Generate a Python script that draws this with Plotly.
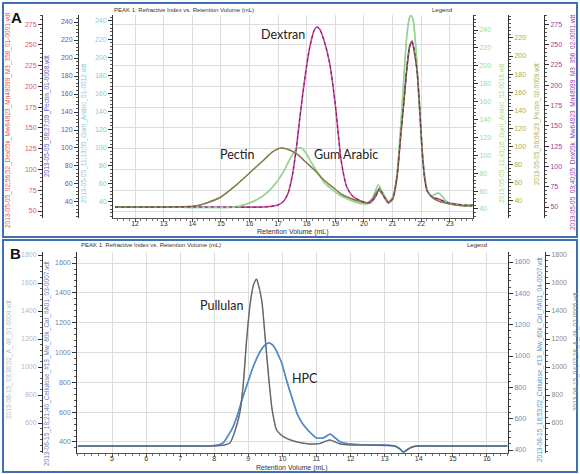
import plotly.graph_objects as go

# ---------------- Panel A : retention volume (mL) and RI response ----------------
dex_x = [11.3, 12.5, 14, 15.5, 16.5, 17.0, 17.2, 17.35, 17.5, 17.65, 17.8, 17.95, 18.1, 18.25, 18.35,
         18.45, 18.6, 18.8, 19.0, 19.2, 19.4, 19.6, 19.9, 20.2, 20.4, 20.55, 20.7, 20.85, 21.0, 21.15,
         21.3, 21.4, 21.5, 21.6, 21.68, 21.78, 21.86, 21.95, 22.03, 22.12, 22.21, 22.4, 22.6, 23.0, 23.5, 23.8]
dex_run1 = [54.8, 54.8, 54.8, 54.8, 54.8, 57.2, 62.0, 71.7, 93.3, 129.4, 174.0, 213.7, 246.2, 266.6, 271.4,
            269.0, 255.8, 228.1, 177.6, 111.4, 78.9, 68.1, 62.0, 59.6, 66.8, 77.7, 66.8, 59.6, 64.4, 89.7,
            147.5, 183.6, 222.1, 248.6, 254.6, 237.7, 217.3, 171.5, 123.4, 89.7, 74.1, 66.8, 64.4, 59.6, 57.2, 57.2]
dex_run2 = [50.0, 50.0, 50.0, 50.0, 50.0, 52.5, 57.4, 67.2, 89.4, 126.3, 171.8, 212.4, 245.6, 266.5, 271.4,
            268.9, 255.4, 227.1, 175.5, 107.8, 74.6, 63.5, 57.4, 54.9, 62.3, 73.4, 62.3, 54.9, 59.8, 85.7,
            144.7, 181.6, 221.0, 248.0, 254.2, 237.0, 216.1, 169.3, 120.1, 85.7, 69.7, 62.3, 59.8, 54.9, 52.5, 52.5]

pec_x = [11.3, 13, 14.1, 14.5, 15.0, 15.5, 16.0, 16.5, 16.8, 17.1, 17.4, 17.7, 18.0, 18.3, 18.6, 18.9,
         19.2, 19.5, 19.8, 20.1, 20.3, 20.5, 20.7, 20.85, 21.0, 21.15, 21.3, 21.4, 21.5, 21.6, 21.68,
         21.78, 21.86, 21.95, 22.03, 22.12, 22.21, 22.4, 22.6, 23.0, 23.5, 23.8]
pec_run1 = [34.4, 34.4, 35.6, 38.9, 45.6, 57.8, 72.2, 86.7, 95.6, 100.0, 97.8, 92.2, 83.3, 74.4, 64.4, 56.7,
            48.9, 44.4, 41.1, 38.9, 43.3, 53.3, 46.7, 40.0, 43.3, 66.7, 120.0, 153.3, 188.9, 213.3, 217.8,
            203.3, 184.4, 142.2, 97.8, 66.7, 52.2, 44.4, 41.1, 37.8, 35.6, 35.6]
pec_run2 = [33.4, 33.4, 34.5, 37.8, 44.4, 56.6, 70.9, 85.3, 94.1, 98.5, 96.3, 90.8, 81.9, 73.1, 63.2, 55.5,
            47.7, 43.3, 40.0, 37.8, 42.2, 52.1, 45.5, 38.9, 42.2, 65.4, 118.4, 151.5, 186.8, 211.1, 215.5,
            201.2, 182.4, 140.4, 96.3, 65.4, 51.0, 43.3, 40.0, 36.7, 34.5, 34.5]

gum_x = [11.3, 13, 15.5, 16.0, 16.3, 16.6, 16.9, 17.2, 17.45, 17.65, 17.8, 17.95, 18.15, 18.35, 18.6,
         18.9, 19.2, 19.5, 19.8, 20.1, 20.3, 20.5, 20.7, 20.85, 21.0, 21.15, 21.3, 21.4, 21.5, 21.6,
         21.65, 21.72, 21.82, 21.92, 22.03, 22.12, 22.21, 22.35, 22.5, 22.6, 22.75, 22.9, 23.2, 23.8]
gum_run1 = [34.5, 34.5, 34.5, 38.9, 43.3, 49.9, 59.9, 74.3, 89.7, 98.6, 99.7, 95.2, 84.2, 74.3, 62.1,
            53.3, 46.6, 42.2, 38.9, 37.8, 44.4, 58.8, 47.7, 40.0, 45.5, 69.8, 130.6, 180.3, 224.5, 244.5,
            246.0, 241.1, 208.0, 152.7, 99.7, 68.7, 53.3, 46.6, 48.8, 49.9, 45.5, 40.0, 36.7, 36.7]
gum_run2 = [42.2, 42.2, 42.2, 46.7, 51.2, 57.9, 67.9, 82.4, 98.1, 107.0, 108.1, 103.7, 92.5, 82.4, 70.2,
            61.2, 54.5, 50.1, 46.7, 45.6, 52.3, 66.8, 55.6, 47.8, 53.4, 78.0, 139.4, 189.7, 234.4, 255.0,
            256.0, 251.1, 217.6, 161.8, 108.1, 76.9, 61.2, 54.5, 56.8, 57.9, 53.4, 47.8, 44.5, 44.5]

# ---------------- Panel B ----------------
pul_x = [4.0, 5, 6, 7, 8.0, 8.3, 8.46, 8.6, 8.75, 8.85, 8.95, 9.05, 9.15, 9.24, 9.32, 9.4, 9.5, 9.6,
         9.7, 9.83, 10.0, 10.2, 10.5, 10.81, 11.1, 11.25, 11.4, 11.55, 11.7, 12.0, 12.5, 13.0, 13.3,
         13.45, 13.55, 13.65, 13.8, 13.95, 14.5, 15.0, 16.0, 16.6]
pul_y = [435.7, 435.7, 435.7, 435.7, 435.7, 442.9, 457.1, 535.7, 671.4, 871.4, 1192.9, 1442.9, 1585.7,
         1628.6, 1564.3, 1464.3, 1192.9, 921.4, 692.9, 550.0, 507.1, 482.1, 460.7, 450.0, 453.6, 467.9,
         478.6, 464.3, 450.0, 442.9, 442.9, 439.3, 435.7, 414.3, 392.9, 407.1, 428.6, 435.7, 435.7,
         435.7, 435.7, 435.7]

hpc_x = [4.0, 5, 6, 7, 7.8, 8.1, 8.26, 8.4, 8.55, 8.7, 8.84, 9.0, 9.14, 9.34, 9.46, 9.58, 9.68, 9.78,
         9.88, 9.98, 10.12, 10.32, 10.45, 10.6, 10.8, 11.0, 11.2, 11.3, 11.4, 11.55, 11.7, 12.0, 12.5,
         13.0, 13.3, 13.45, 13.55, 13.65, 13.8, 13.95, 14.5, 15.0, 16.0, 16.6]
hpc_run1 = [373.2, 373.2, 373.2, 373.2, 373.2, 379.9, 393.3, 440.2, 500.6, 594.4, 701.7, 808.9, 902.8,
            1003.4, 1043.6, 1063.7, 1057.0, 1030.2, 983.2, 929.6, 815.6, 668.2, 581.0, 520.7, 467.0,
            426.8, 426.8, 440.2, 453.6, 426.8, 400.0, 386.6, 379.9, 379.9, 373.2, 353.1, 333.0, 346.4,
            366.5, 373.2, 373.2, 373.2, 373.2, 373.2]
hpc_run2 = [425.5, 425.5, 425.5, 425.5, 425.5, 431.9, 444.7, 489.4, 546.8, 636.2, 738.3, 840.4, 929.8,
            1025.5, 1063.8, 1083.0, 1076.6, 1051.1, 1006.4, 955.3, 846.8, 706.4, 623.4, 566.0, 514.9,
            476.6, 476.6, 489.4, 502.1, 476.6, 451.1, 438.3, 431.9, 431.9, 425.5, 406.4, 387.2, 400.0,
            419.1, 425.5, 425.5, 425.5, 425.5, 425.5]

a_ticks = list(range(12, 24))
b_ticks = list(range(5, 17))

W, H = 580, 474
FONT = 'Liberation Sans'


def px(x):
    return x / W


def py(y):
    return 1 - y / H


fig = go.Figure()


def add(x, y, xa, ya, color, width=1.4, dash='solid'):
    fig.add_trace(go.Scatter(x=x, y=y, xaxis=xa, yaxis=ya, mode='lines', showlegend=False,
                             line=dict(color=color, width=width, dash=dash, shape='spline', smoothing=0.6)))


add(gum_x, gum_run1, 'x', 'y3', '#9ad2d6', 1.6)
add(gum_x, gum_run2, 'x', 'y4', '#98d884', 1.4)
add(pec_x, pec_run2, 'x', 'y5', '#857a48', 1.5)
add(pec_x, pec_run1, 'x', 'y2', '#3c3c78', 1.0, 'dot')
add(dex_x, dex_run1, 'x', 'y', '#d2449a', 1.6)
add(dex_x, dex_run2, 'x', 'y6', '#5c2070', 1.0, 'dot')

add(pul_x, pul_y, 'x2', 'y7', '#9aa4b4', 1.6)
add(pul_x, pul_y, 'x2', 'y10', '#5a5a5a', 1.0)
add(hpc_x, hpc_run1, 'x2', 'y8', '#6a7cb8', 1.6)
add(hpc_x, hpc_run2, 'x2', 'y9', '#4a92cc', 1.2)

dom_a = [py(218), py(15)]
dom_b = [py(453), py(252)]


def yax(color, rng, dtick, mdt, **kw):
    d = dict(range=rng, dtick=dtick, tick0=0, showline=True, linecolor='#333333', linewidth=1,
             ticks='outside', ticklen=4, tickcolor='#333333', zeroline=False, showgrid=False,
             tickfont=dict(family=FONT, size=7, color=color),
             minor=dict(ticks='outside', ticklen=2, dtick=mdt, tickcolor='#555555'))
    d.update(kw)
    return d


def xax(dom, rng, vals, anchor):
    return dict(domain=dom, range=rng, anchor=anchor, tickmode='array', tickvals=vals,
                showline=True, linecolor='#555555', linewidth=1, ticks='outside', ticklen=3,
                tickcolor='#555555', zeroline=False, showgrid=True, gridcolor='#dddddd',
                ticklabelstandoff=-4,
                minor=dict(ticks='outside', ticklen=2, dtick=0.2, tickcolor='#777777'),
                tickfont=dict(family=FONT, size=7, color='#333333'))


C_DEX1, C_PEC1, C_GUM1 = '#e05a5a', '#5a5ac8', '#8ec8dc'
C_GUM2, C_PEC2, C_DEX2 = '#a8dc80', '#aab04e', '#a040a8'
C_PUL1, C_HPC1, C_HPC2, C_PUL2 = '#b0bcd0', '#6a80c0', '#5a94c8', '#8a8a8a'

fig.update_layout(
    width=W, height=H, margin=dict(l=0, r=0, t=0, b=0),
    paper_bgcolor='white', plot_bgcolor='white',
    xaxis=xax([px(113), px(473)], [11.23, 23.81], a_ticks, 'y'),
    xaxis2=xax([px(77), px(508)], [3.973, 16.62], b_ticks, 'y8'),
    yaxis=yax(C_DEX1, [41.6, 285.9], 25, 5, domain=dom_a, anchor='free', position=px(42),
              showgrid=True, gridcolor='#dddddd'),
    yaxis2=yax(C_PEC1, [22.2, 247.8], 20, 4, overlaying='y', anchor='free', position=px(78), side='left'),
    yaxis3=yax(C_GUM1, [22.3, 246.6], 20, 4, overlaying='y', anchor='x', side='left'),
    yaxis4=yax(C_GUM2, [29.9, 256.8], 20, 4, overlaying='y', anchor='x', side='right'),
    yaxis5=yax(C_PEC2, [21.2, 245.3], 20, 4, overlaying='y', anchor='free', position=px(508), side='right',
               tickmode='array', tickvals=list(range(40, 221, 20))),
    yaxis6=yax(C_DEX2, [36.5, 286.2], 25, 5, overlaying='y', anchor='free', position=px(544), side='right'),
    yaxis8=yax(C_HPC1, [326, 1674], 200, 40, domain=dom_b, anchor='x2', side='left',
               showgrid=True, gridcolor='#dddddd'),
    yaxis7=yax(C_PUL1, [385.7, 1821.4], 200, 40, overlaying='y8', anchor='free', position=px(42),
               side='left', tickmode='array', tickvals=list(range(600, 1801, 200))),
    yaxis9=yax(C_HPC2, [381, 1664], 200, 40, overlaying='y8', anchor='x2', side='right'),
    yaxis10=yax(C_PUL2, [385.7, 1821.4], 200, 40, overlaying='y8', anchor='free', position=px(545),
                side='right', tickmode='array', tickvals=list(range(600, 1801, 200))),
)

# panel frames
for top, bottom in [(3, 237), (240, 472)]:
    fig.add_shape(type='rect', xref='paper', yref='paper', x0=px(3), x1=px(577), y0=py(bottom), y1=py(top),
                  line=dict(color='#3d6fb6', width=2), layer='below')


def note(text, x, y, size=7, color='#333333', family=FONT, xanchor='center', angle=0):
    fig.add_annotation(text=text, x=px(x), y=py(y), xref='paper', yref='paper', showarrow=False,
                       xanchor=xanchor, yanchor='middle', textangle=angle, borderpad=0,
                       font=dict(family=family, size=size, color=color))


# data-file names along each y axis
axis_titles = [
    ('2013-05-05_02;56;52_Dex05k_Mw64923_Mn48099_M3_356_01-0001.vdt', 8, 120, C_DEX1),
    ('2013-05-05_08;27;09_Pectin_01-0008.vdt', 47, 116, C_PEC1),
    ('2013-05-05_11;13;05_Gum_Arabic_01-0012.vdt', 84, 133, C_GUM1),
    ('2013-05-05_11;43;16_Gum_Arabic_02-0016.vdt', 502, 133, C_GUM2),
    ('2013-05-05_09;08;23_Pectin_02-0009.vdt', 537, 124, C_PEC2),
    ('2013-05-05_03;40;05_Dex05k_Mw64923_Mn48099_M3_356_02-0001.vdt', 573, 122, C_DEX2),
    ('2013-06-15_03;38;02_A_48_01-0004.vdt', 9, 360, C_PUL1),
    ('2013-06-15_18;21;40_Cellulose_#13_Mw_60k_Cal_#A01_03-0007.vdt', 47, 364, C_HPC1),
    ('2013-06-15_18;53;02_Cellulose_#13_Mw_60k_Cal_#A01_04-0007.vdt', 540, 360, C_HPC2),
    ('2013-06-15_04;07;16_A_48_02-0005.vdt', 576, 352, C_PUL2),
]
for text, x, y, c in axis_titles:
    note(text, x, y, 6.5, c, angle=-90)

note('PEAK 1: Refractive Index vs. Retention Volume (mL)', 113, 10, 6, xanchor='left')
note('PEAK 1: Refractive Index vs. Retention Volume (mL)', 80, 245, 6, xanchor='left')
note('Legend', 442, 10, 6)
note('Legend', 477, 245, 6)
note('Retention Volume (mL)', 293, 232, 7)
note('Retention Volume (mL)', 292, 468, 7)
note('<b>A</b>', 16, 17, 15, '#111111')
note('<b>B</b>', 15, 253, 15, '#111111')
note('Dextran', 283, 35, 12.5, '#222222', 'Lato')
note('Pectin', 237, 154, 12.5, '#222222', 'Lato')
note('Gum Arabic', 346, 154, 12.5, '#222222', 'Lato')
note('Pullulan', 221, 305, 12.5, '#222222', 'Lato')
note('HPC', 305, 378, 12.5, '#222222', 'Lato')

fig.write_html('out.html', config={'displayModeBar': False},
               post_script="document.body.style.margin='0px';document.body.style.overflow='hidden';")
